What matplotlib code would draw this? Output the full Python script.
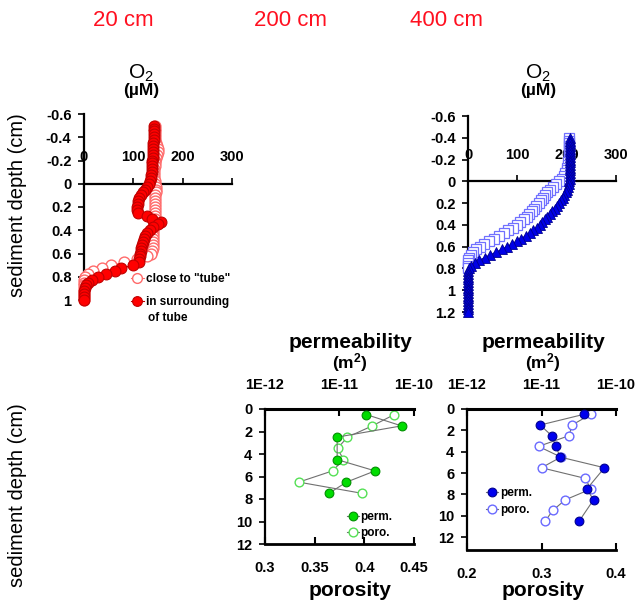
import numpy as np
import matplotlib
matplotlib.use('Agg')
import matplotlib.pyplot as plt
from matplotlib.ticker import FuncFormatter, NullLocator, FixedLocator

plt.rcParams['font.family'] = ['Liberation Sans', 'DejaVu Sans']
plt.rcParams['mathtext.fontset'] = 'custom'
plt.rcParams['mathtext.rm'] = 'Liberation Sans'
plt.rcParams['mathtext.bf'] = 'Liberation Sans:bold'
plt.rcParams['mathtext.it'] = 'Liberation Sans:italic'

# ---------------- data ----------------
titles = ['20 cm', '200 cm', '400 cm']

depth_20 = [-0.5, -0.475, -0.45, -0.425, -0.4, -0.375, -0.35, -0.325, -0.3, -0.275,
            -0.25, -0.225, -0.2, -0.175, -0.15, -0.125, -0.1, -0.075, -0.05, -0.025,
            0.0, 0.025, 0.05, 0.075, 0.1, 0.125, 0.15, 0.175, 0.2, 0.225,
            0.25, 0.275, 0.3, 0.325, 0.35, 0.375, 0.4, 0.425, 0.45, 0.475,
            0.5, 0.525, 0.55, 0.575, 0.6, 0.625, 0.65, 0.675, 0.7, 0.725,
            0.75, 0.775, 0.8, 0.825, 0.85, 0.875, 0.9, 0.925, 0.95, 0.975, 1.0]
o2_20_close = [143, 143, 143, 143, 143, 144, 145, 147, 149, 150,
               148, 146, 144, 143, 143, 142, 142, 142, 142, 143,
               144, 145, 145, 145, 144, 144, 144, 144, 144, 144,
               144, 143, 143, 142, 141, 140, 140, 139, 139, 139,
               139, 139, 139, 138, 136, 128, 108, 82, 55, 36,
               18, 8, 3, 1, 0, 0, 0, 0, 0, 0, 0]
o2_20_surr = [142, 142, 142, 141, 141, 141, 140, 140, 140, 139,
              139, 139, 138, 138, 138, 137, 137, 136, 135, 133,
              131, 128, 124, 119, 115, 112, 110, 109, 108, 108,
              110, 127, 137, 157, 149, 140, 134, 128, 124, 121,
              119, 117, 116, 115, 114, 113, 112, 111, 99, 76,
              62, 45, 29, 16, 8, 4, 2, 1, 0.5, 0, 0]

depth_400 = [-0.4, -0.375, -0.35, -0.325, -0.3, -0.275, -0.25, -0.225, -0.2, -0.175,
             -0.15, -0.125, -0.1, -0.075, -0.05, -0.025, 0.0, 0.025, 0.05, 0.075,
             0.1, 0.125, 0.15, 0.175, 0.2, 0.225, 0.25, 0.275, 0.3, 0.325,
             0.35, 0.375, 0.4, 0.425, 0.45, 0.475, 0.5, 0.525, 0.55, 0.575,
             0.6, 0.625, 0.65, 0.675, 0.7, 0.725, 0.75, 0.775, 0.8, 0.825,
             0.85, 0.875, 0.9, 0.925, 0.95, 0.975, 1.0, 1.025, 1.05, 1.075,
             1.1, 1.125, 1.15, 1.175, 1.2]
o2_400_filled = [206, 206, 206, 207, 207, 207, 207, 207, 207, 207,
                 207, 207, 207, 207, 206, 206, 205, 204, 202, 200,
                 198, 195, 192, 189, 185, 180, 176, 171, 166, 161,
                 156, 150, 145, 139, 132, 125, 117, 108, 99, 89,
                 79, 68, 57, 45, 34, 23, 14, 7, 3, 1,
                 0.5, 0, 0, 0, 0, 0, 0, 0, 0, 0,
                 0, 0, 0, 0, 0]
o2_400_open = [205, 205, 205, 205, 205, 205, 205, 204, 204, 203,
               202, 201, 200, 197, 194, 190, 185, 178, 172, 166,
               161, 156, 152, 147, 143, 138, 134, 129, 124, 119,
               113, 106, 99, 91, 82, 72, 62, 52, 42, 33,
               24, 17, 10, 6, 3, 1, 0, 0, 0]

depth_200_perm = [0.5, 1.5, 2.5, 4.5, 5.5, 6.5, 7.5]
perm_200 = [2.3e-11, 6.8e-11, 9.3e-12, 9.3e-12, 3.0e-11, 1.24e-11, 7.2e-12]
depth_200_poro = [0.5, 1.5, 2.5, 3.5, 4.5, 5.5, 6.5, 7.5]
poro_200 = [0.430, 0.408, 0.383, 0.373, 0.379, 0.368, 0.334, 0.398]

depth_400_perm = [0.5, 1.5, 2.5, 3.5, 4.5, 5.5, 7.5, 8.5, 10.5]
perm_400 = [3.7e-11, 9.6e-12, 1.37e-11, 1.56e-11, 1.78e-11, 7.0e-11, 4.05e-11, 5.0e-11, 3.2e-11]
depth_400_poro = [0.5, 1.5, 2.5, 3.5, 4.5, 5.5, 6.5, 7.5, 8.5, 9.5, 10.5]
poro_400 = [0.366, 0.341, 0.337, 0.296, 0.326, 0.300, 0.359, 0.366, 0.332, 0.315, 0.305]

o2_ticks = [0, 100, 200, 300]
perm_ticks = [1e-12, 1e-11, 1e-10]
perm_labels = ['1E-12', '1E-11', '1E-10']

# ---------------- figure ----------------
W, H = 638, 605
fig = plt.figure(figsize=(W / 100, H / 100), dpi=100)


def rect(x0, y0, x1, y1):
    return [x0 / W, 1 - y1 / H, (x1 - x0) / W, (y1 - y0) / H]


def fmt_num(v, p=None):
    v = round(v, 3)
    if abs(v) < 1e-9:
        v = 0
    return ('%g' % v)


TICK_FS = 10.5


def o2_axes(r, ylim, yticks):
    ax = fig.add_axes(r)
    ax.set_facecolor('none')
    ax.set_xlim(0, 300)
    ax.set_ylim(*ylim)
    ax.spines['right'].set_visible(False)
    ax.spines['bottom'].set_visible(False)
    ax.spines['top'].set_position(('data', 0))
    ax.spines['top'].set_linewidth(1.6)
    ax.spines['left'].set_linewidth(1.6)
    ax.xaxis.set_ticks_position('top')
    ax.set_xticks(o2_ticks)
    ax.xaxis.set_major_formatter(FuncFormatter(fmt_num))
    ax.set_yticks(yticks)
    ax.yaxis.set_major_formatter(FuncFormatter(fmt_num))
    ax.tick_params(axis='x', direction='out', length=4, width=1.2, pad=10,
                   labelsize=TICK_FS)
    ax.tick_params(axis='y', direction='out', length=4, width=1.2, pad=5,
                   labelsize=TICK_FS)
    for lab in ax.get_xticklabels() + ax.get_yticklabels():
        lab.set_fontweight('bold')
    return ax


# --- top-left: 20 cm ---
ax1 = o2_axes(rect(84, 114, 232, 300), (1.0, -0.6),
              [-0.6, -0.4, -0.2, 0, 0.2, 0.4, 0.6, 0.8, 1.0])
l_close, = ax1.plot(o2_20_close, depth_20, '-', color='#ff6a6a', lw=0.8,
                    marker='o', ms=7.8, mfc='white', mec='#ff6a6a', mew=1.0,
                    clip_on=False, zorder=3)
l_surr, = ax1.plot(o2_20_surr, depth_20, '-', color='#c00000', lw=0.8,
                   marker='o', ms=7.8, mfc='#ff0000', mec='#c00000', mew=0.8,
                   clip_on=False, zorder=4)
ax1.legend([l_close, l_surr], ['close to "tube"', 'in surrounding'],
           loc='upper left', bbox_to_anchor=(131 / W, 1 - 273 / H),
           bbox_transform=fig.transFigure, frameon=False,
           handlelength=1.1, handletextpad=0.15, borderpad=0,
           borderaxespad=0, labelspacing=0.95,
           prop={'weight': 'bold', 'size': 8.5}, markerscale=0.9)
fig.text(148 / W, 1 - 318 / H, 'of tube', fontsize=8.5, fontweight='bold',
         ha='left', va='center')

# --- top-right: 400 cm ---
ax3 = o2_axes(rect(468, 116, 616, 312), (1.2, -0.6),
              [-0.6, -0.4, -0.2, 0, 0.2, 0.4, 0.6, 0.8, 1.0, 1.2])
ax3.plot(o2_400_open, depth_400[:len(o2_400_open)], '-', color='#8080ff', lw=0.8,
         marker='s', ms=6.5, mfc='white', mec='#7070ff', mew=0.9,
         clip_on=False, zorder=3)
ax3.plot(o2_400_filled, depth_400, '-', color='#0000c0', lw=0.8,
         marker='^', ms=7, mfc='#0000e6', mec='#000090', mew=0.6,
         clip_on=False, zorder=4)


# --- bottom panels ---
def perm_axes(r, xlim, xticks, ylim, yticks):
    ax = fig.add_axes(r)
    ax.set_facecolor('none')
    ax.set_xlim(*xlim)
    ax.set_ylim(*ylim)
    ax.set_xticks(xticks)
    ax.xaxis.set_major_formatter(FuncFormatter(fmt_num))
    ax.set_yticks(yticks)
    ax.yaxis.set_major_formatter(FuncFormatter(fmt_num))
    ax.spines['right'].set_visible(False)
    ax.spines['top'].set_visible(False)
    ax.spines['bottom'].set_linewidth(2.0)
    ax.spines['left'].set_linewidth(1.6)
    ax.tick_params(axis='x', direction='in', length=5, width=1.5, pad=12,
                   labelsize=TICK_FS)
    ax.tick_params(axis='y', direction='out', length=4, width=1.2, pad=5,
                   labelsize=TICK_FS)
    ax2 = ax.twiny()
    ax2.set_xscale('log')
    ax2.set_xlim(1e-12, 1e-10)
    ax2.xaxis.set_major_locator(FixedLocator(perm_ticks))
    ax2.xaxis.set_minor_locator(NullLocator())
    ax2.set_xticklabels(perm_labels)
    for s in ['right', 'bottom', 'left']:
        ax2.spines[s].set_visible(False)
    ax2.spines['top'].set_linewidth(2.2)
    ax2.tick_params(axis='x', direction='in', length=5, width=1.5, pad=12,
                    labelsize=TICK_FS)
    for lab in (ax.get_xticklabels() + ax.get_yticklabels()
                + ax2.get_xticklabels()):
        lab.set_fontweight('bold')
    return ax, ax2


axb, axb2 = perm_axes(rect(265, 409, 414, 544), (0.3, 0.45),
                      [0.3, 0.35, 0.4, 0.45], (12, 0), [0, 2, 4, 6, 8, 10, 12])
h_poro_g, = axb.plot(poro_200, depth_200_poro, '-', color='#707070', lw=0.8,
                     marker='o', ms=6.3, mfc='white', mec='#55e055', mew=1.0,
                     clip_on=False, zorder=3)
h_perm_g, = axb2.plot(perm_200, depth_200_perm, '-', color='#707070', lw=0.8,
                      marker='o', ms=6.3, mfc='#00dd00', mec='#009000', mew=0.8,
                      clip_on=False, zorder=4)
axb2.legend([h_perm_g, h_poro_g], ['perm.', 'poro.'], loc='upper left',
            bbox_to_anchor=(347 / W, 1 - 511 / H), bbox_transform=fig.transFigure,
            frameon=False, handlelength=1.0, handletextpad=0.15, borderpad=0,
            borderaxespad=0, labelspacing=0.35,
            prop={'weight': 'bold', 'size': 8.5})

axc, axc2 = perm_axes(rect(467, 409, 616, 550), (0.2, 0.4),
                      [0.2, 0.3, 0.4], (13.2, 0), [0, 2, 4, 6, 8, 10, 12])
h_poro_b, = axc.plot(poro_400, depth_400_poro, '-', color='#707070', lw=0.8,
                     marker='o', ms=6.3, mfc='white', mec='#6a6aff', mew=1.0,
                     clip_on=False, zorder=3)
h_perm_b, = axc2.plot(perm_400, depth_400_perm, '-', color='#707070', lw=0.8,
                      marker='o', ms=6.3, mfc='#0000ee', mec='#000090', mew=0.8,
                      clip_on=False, zorder=4)
axc2.legend([h_perm_b, h_poro_b], ['perm.', 'poro.'], loc='upper left',
            bbox_to_anchor=(486 / W, 1 - 487 / H), bbox_transform=fig.transFigure,
            frameon=False, handlelength=1.0, handletextpad=0.2, borderpad=0,
            borderaxespad=0, labelspacing=0.45,
            prop={'weight': 'bold', 'size': 8.5})

# ---------------- text ----------------
RED = '#ff1020'
for txt, x in zip(titles, [123, 291, 446]):
    fig.text(x / W, 1 - 21 / H, txt, color=RED, fontsize=16,
             ha='center', va='center')

for x in [141, 538]:
    fig.text(x / W, 1 - 73 / H, r'O$_\mathrm{2}$', fontsize=15,
             ha='center', va='center')
    fig.text(x / W, 1 - 91 / H, '(µM)', fontsize=12.5, fontweight='bold',
             ha='center', va='center')

for x in [350, 543]:
    fig.text(x / W, 1 - 343 / H, 'permeability', fontsize=15,
             fontweight='bold', ha='center', va='center')
    fig.text(x / W, 1 - 363 / H, r'(m$^\mathbf{2}$)', fontsize=12.5,
             fontweight='bold', ha='center', va='center')
    fig.text(x / W, 1 - 591 / H, 'porosity', fontsize=15,
             fontweight='bold', ha='center', va='center')

for y in [205, 495]:
    fig.text(18 / W, 1 - y / H, 'sediment depth (cm)', fontsize=14.5,
             rotation=90, ha='center', va='center')

fig.savefig('out.png', dpi=100)
